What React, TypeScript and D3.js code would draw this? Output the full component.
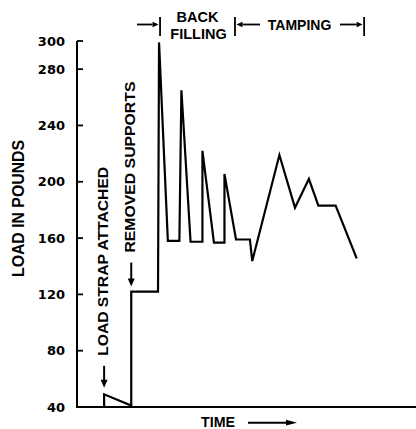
import React from "react";
import * as d3 from "d3";

// ---- data ----
const time = [0, 8, 8, 16, 16, 23.9, 24.2, 26.8, 30.2, 30.8, 33.5, 37.0, 37.0, 40.4, 43.5, 43.5, 46.9, 51.0, 51.7, 59.7, 64.3, 68.4, 71.2, 76.3, 82.5];
const load = [40, 40, 49, 41, 122, 122, 299, 158, 158, 265, 157.4, 157.4, 222, 156.7, 156.7, 205.5, 159, 159, 143.7, 219, 181.6, 202, 183, 183, 145.6];
const yTicks = [40, 80, 120, 160, 200, 240, 280, 300];
const eventLabels = ["LOAD STRAP ATTACHED", "REMOVED SUPPORTS"];
const eventTimes = [8, 16];
const eventLoads = [49, 122];
const phaseLabels = [["BACK", "FILLING"], ["TAMPING"]];
const phaseBounds = [24.5, 46.6, 84.7];

const W = 416;
const H = 429;
const FONT = "'Liberation Sans', Arial, Helvetica, sans-serif";
const NUMFONT = "'DejaVu Sans', sans-serif";

export default function App() {
  const x = d3.scaleLinear().domain([0, 100]).range([77, 416]);
  const y = d3.scaleLinear().domain([40, 300]).range([407, 41]);
  const line = d3
    .line<number>()
    .x((_, i) => x(time[i]))
    .y((d) => y(d));

  const pts = load;
  const eventTextLen = [189, 171];

  const arrowDown = (cx: number, tipY: number, len: number) => {
    const head = 8;
    return (
      <g>
        <line x1={cx} x2={cx} y1={tipY - len} y2={tipY - head + 1} stroke="#000" strokeWidth={2} />
        <path d={`M${cx - 3.5},${tipY - head} L${cx + 3.5},${tipY - head} L${cx},${tipY} Z`} fill="#000" />
      </g>
    );
  };

  const hArrow = (x1: number, x2: number, yy: number) => {
    const dir = x2 > x1 ? 1 : -1;
    const head = 6;
    return (
      <g>
        <line x1={x1} x2={x2 - dir * head} y1={yy} y2={yy} stroke="#000" strokeWidth={1.8} />
        <path d={`M${x2 - dir * head},${yy - 2.8} L${x2 - dir * head},${yy + 2.8} L${x2},${yy} Z`} fill="#000" />
      </g>
    );
  };

  const b0 = x(phaseBounds[0]);
  const b1 = x(phaseBounds[1]);
  const b2 = x(phaseBounds[2]);
  const barY1 = 17;
  const barY2 = 36;
  const arrY = 24.5;

  return (
    <svg
      width={W}
      height={H}
      style={{ position: "absolute", left: 0, top: 0, background: "#fff" }}
    >
      {/* axes */}
      <line x1={x(0)} x2={x(0)} y1={y(300)} y2={y(40) + 1} stroke="#000" strokeWidth={2} />
      <line x1={x(0) - 1} x2={W} y1={y(40)} y2={y(40)} stroke="#000" strokeWidth={2} />
      {yTicks.map((t) => (
        <g key={t}>
          <line x1={x(0)} x2={x(0) + 6} y1={y(t)} y2={y(t)} stroke="#000" strokeWidth={1.8} />
          <text
            x={65}
            y={y(t)}
            dy="0.36em"
            textAnchor="end"
            fontFamily={NUMFONT}
            fontWeight="bold"
            fontSize={13}
          >
            {t}
          </text>
        </g>
      ))}
      <text
        transform={`translate(24,${208.5}) rotate(-90)`}
        textAnchor="middle"
        fontFamily={FONT}
        fontWeight="bold"
        fontSize={16}
        textLength={137}
        lengthAdjust="spacingAndGlyphs"
      >
        LOAD IN POUNDS
      </text>

      {/* time label */}
      <text x={201} y={426.5} fontFamily={FONT} fontWeight="bold" fontSize={14} textLength={34} lengthAdjust="spacingAndGlyphs">
        TIME
      </text>
      <line x1={248} x2={288} y1={422.7} y2={422.7} stroke="#000" strokeWidth={2} />
      <path d={`M286,419.8 L297,422.7 L286,425.6 Z`} fill="#000" />

      {/* data line */}
      <path d={line(pts) || ""} fill="none" stroke="#000" strokeWidth={2.2} strokeLinejoin="miter" />

      {/* event annotations */}
      {eventLabels.map((lab, i) => {
        const cx = x(eventTimes[i]);
        const tipY = y(eventLoads[i]) - (i === 0 ? 6.5 : 5);
        const len = i === 0 ? 22 : 24;
        const textBottom = tipY - len - 10;
        return (
          <g key={lab}>
            {arrowDown(cx, tipY, len)}
            <text
              transform={`translate(${cx + 4},${textBottom}) rotate(-90)`}
              textAnchor="start"
              fontFamily={FONT}
              fontWeight="bold"
              fontSize={15}
              textLength={eventTextLen[i]}
              lengthAdjust="spacingAndGlyphs"
            >
              {lab}
            </text>
          </g>
        );
      })}

      {/* phase brackets */}
      {[b0, b1, b2].map((bx, i) => (
        <line key={i} x1={bx} x2={bx} y1={barY1} y2={barY2} stroke="#000" strokeWidth={1.8} />
      ))}
      {hArrow(137, b0 - 1.5, arrY)}
      {hArrow(b1 + 25, b1 + 1.5, arrY)}
      {hArrow(340, b2 - 1.5, arrY)}
      <text x={(b0 + b1) / 2} y={21.5} textAnchor="middle" fontFamily={FONT} fontWeight="bold" fontSize={14.5}>
        {phaseLabels[0][0]}
      </text>
      <text x={(b0 + b1) / 2 + 1} y={38.5} textAnchor="middle" fontFamily={FONT} fontWeight="bold" fontSize={14.5}>
        {phaseLabels[0][1]}
      </text>
      <text x={(b1 + b2) / 2} y={29.5} textAnchor="middle" fontFamily={FONT} fontWeight="bold" fontSize={14}>
        {phaseLabels[1][0]}
      </text>
    </svg>
  );
}
